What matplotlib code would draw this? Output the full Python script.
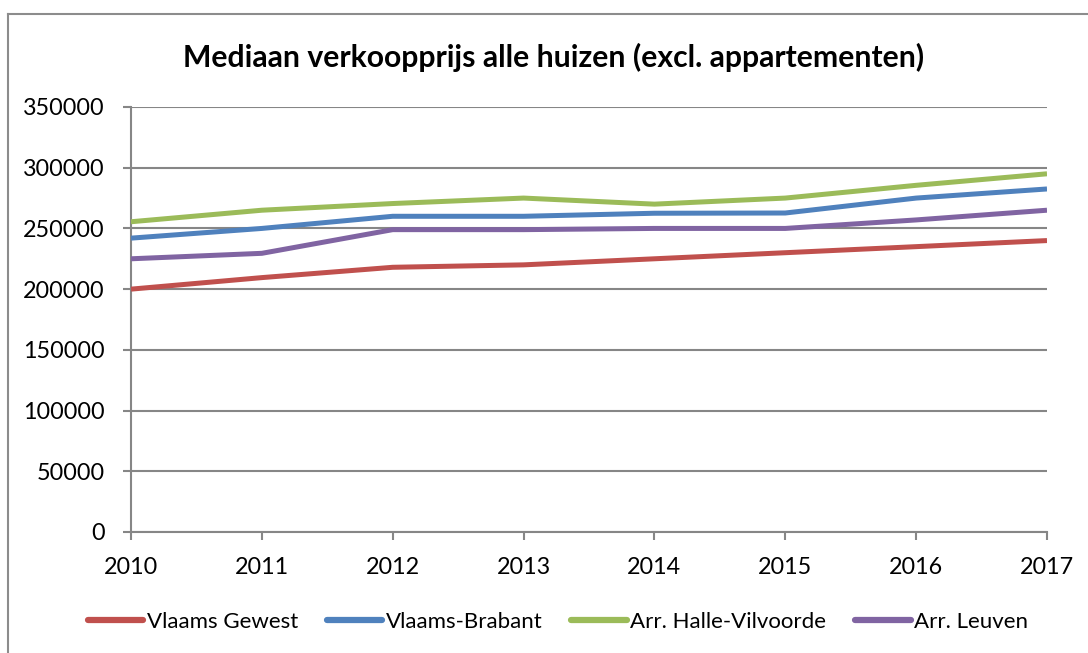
import matplotlib
matplotlib.use('Agg')
import matplotlib.pyplot as plt
from matplotlib.lines import Line2D

plt.rcParams['font.family'] = ['Lato', 'DejaVu Sans']

years = [2010, 2011, 2012, 2013, 2014, 2015, 2016, 2017]
vlaams_gewest = [200000, 209500, 218000, 220000, 225000, 230000, 235000, 240000]
vlaams_brabant = [242000, 250000, 260000, 260000, 262500, 262700, 275000, 282500]
halle_vilvoorde = [255500, 265000, 270500, 275000, 270000, 275000, 285500, 295000]
leuven = [225000, 229500, 249000, 249000, 250000, 250000, 257000, 265000]

series = [
    ('Vlaams Gewest', vlaams_gewest, '#C0504D'),
    ('Vlaams-Brabant', vlaams_brabant, '#4F81BD'),
    ('Arr. Halle-Vilvoorde', halle_vilvoorde, '#9BBB59'),
    ('Arr. Leuven', leuven, '#8064A2'),
]
y_ticks = list(range(0, 350001, 50000))

grid_col = '#868686'

fig = plt.figure(figsize=(10.88, 6.53), dpi=100)
ax = fig.add_axes([131/1088, 1 - 532/653, (1047-131)/1088, (532-107)/653])

for name, vals, col in series:
    ax.plot(years, vals, color=col, lw=3.6, label=name, solid_capstyle='butt', zorder=3)

ax.set_xlim(years[0], years[-1])
ax.set_ylim(0, 350000)
ax.set_xticks(years)
ax.set_yticks(y_ticks)
ax.set_yticklabels([str(v) for v in y_ticks])
ax.tick_params(axis='both', labelsize=16.8, colors=grid_col, labelcolor='black',
               length=6, width=1.5, direction='out')
ax.tick_params(axis='x', pad=12)
ax.tick_params(axis='y', pad=13)
ax.yaxis.grid(True, color=grid_col, lw=1.5, zorder=0)
ax.set_axisbelow(True)
for s in ['top', 'right']:
    ax.spines[s].set_visible(False)
for s in ['left', 'bottom']:
    ax.spines[s].set_color(grid_col)
    ax.spines[s].set_linewidth(1.5)

fig.text(554/1088, 1 - 57/653, 'Mediaan verkoopprijs alle huizen (excl. appartementen)',
         ha='center', va='center', fontsize=21.7, fontweight='bold')

handles = [Line2D([], [], color=c, lw=4.5, solid_capstyle='round') for _, _, c in series]
fig.legend(handles, [n for n, _, _ in series], loc='center', bbox_to_anchor=(558/1088, 1 - 622/653),
           ncol=4, frameon=False, fontsize=16, handlelength=2.5, handletextpad=0.15,
           columnspacing=1.3)

# outer chart frame (top and left edges visible)
fig.add_artist(Line2D([8/1088, 1], [1 - 14/653, 1 - 14/653], color='#8c8c8c', lw=1.5,
                      transform=fig.transFigure))
fig.add_artist(Line2D([8/1088, 8/1088], [0, 1 - 14/653], color='#8c8c8c', lw=1.5,
                      transform=fig.transFigure))

fig.savefig('out.png', dpi=100, facecolor='white')
